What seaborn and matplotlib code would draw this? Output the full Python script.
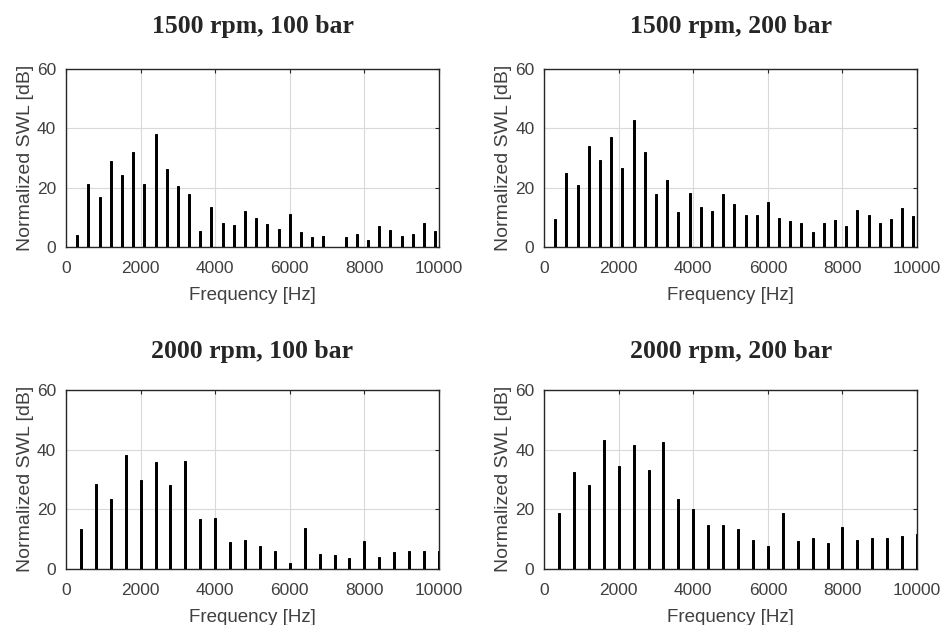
import numpy as np
import pandas as pd
import matplotlib
matplotlib.use("Agg")
import matplotlib.pyplot as plt
import seaborn as sns

# harmonic frequencies (Hz)
freq_1500 = [300 * k for k in range(1, 34)]
freq_2000 = [400 * k for k in range(1, 26)]

# normalized SWL [dB]
swl_1500_100 = [4.0, 21.3, 16.9, 28.9, 24.1, 32.0, 21.1, 37.9, 26.4, 20.6, 17.9,
                5.5, 13.5, 7.9, 7.4, 12.0, 9.8, 7.6, 6.0, 11.0, 5.0, 3.2, 3.6,
                0.0, 3.2, 4.5, 2.3, 7.1, 5.8, 3.5, 4.2, 8.0, 5.5]
swl_1500_200 = [9.5, 25.0, 21.0, 34.0, 29.1, 36.9, 26.5, 42.8, 32.0, 17.7, 22.6,
                11.6, 18.2, 13.4, 12.0, 17.8, 14.4, 10.7, 10.7, 15.0, 9.7, 8.6,
                8.2, 5.1, 8.2, 9.0, 7.1, 12.4, 10.6, 7.9, 9.5, 13.0, 10.4]
swl_2000_100 = [13.2, 28.4, 23.5, 38.2, 29.9, 35.9, 28.2, 36.2, 16.7, 17.2, 9.0,
                9.5, 7.6, 6.0, 1.9, 13.6, 4.9, 4.5, 3.5, 9.4, 4.1, 5.7, 6.1,
                6.1, 6.1]
swl_2000_200 = [18.8, 32.6, 28.1, 43.3, 34.4, 41.4, 33.3, 42.6, 23.5, 20.0, 14.7,
                14.6, 13.2, 9.5, 7.7, 18.7, 9.4, 10.3, 8.6, 14.0, 9.5, 10.4, 10.3,
                11.1, 11.5]

titles = ["1500 rpm, 100 bar", "1500 rpm, 200 bar",
          "2000 rpm, 100 bar", "2000 rpm, 200 bar"]

sns.set_style("white")
plt.rcParams['font.family'] = ['Liberation Sans', 'DejaVu Sans']

fig = plt.figure(figsize=(9.43, 6.25), dpi=100)
positions = [
    [0.070, 0.605, 0.3955, 0.285],
    [0.577, 0.605, 0.3955, 0.285],
    [0.070, 0.090, 0.3955, 0.286],
    [0.577, 0.090, 0.3955, 0.286],
]
panels = [
    (freq_1500, swl_1500_100, 0.18),
    (freq_1500, swl_1500_200, 0.18),
    (freq_2000, swl_2000_100, 0.135),
    (freq_2000, swl_2000_200, 0.135),
]
title_pads = [26, 26, 23, 23]

label_col = "#404040"
for pos, (f, v, w), title, tp in zip(positions, panels, titles, title_pads):
    ax = fig.add_axes(pos)
    df = pd.DataFrame({"freq": f, "swl": v})
    sns.barplot(data=df, x="freq", y="swl", native_scale=True, width=w,
                color="black", edgecolor="black", linewidth=0.7,
                saturation=1, ax=ax, zorder=3)
    ax.set_xlim(0, 10000)
    ax.set_ylim(0, 60)
    ax.set_xticks([0, 2000, 4000, 6000, 8000, 10000])
    ax.set_yticks([0, 20, 40, 60])
    ax.grid(True, color="#d9d9d9", linewidth=0.8, zorder=0)
    ax.set_axisbelow(True)
    ax.tick_params(direction="in", length=3, width=0.8, colors="#262626",
                   labelcolor=label_col, labelsize=12.5,
                   top=True, right=True, pad=7)
    ax.tick_params(axis="x", pad=10)
    for s in ax.spines.values():
        s.set_color("#262626")
        s.set_linewidth(1.0)
    ax.set_xlabel("Frequency [Hz]", color=label_col, fontsize=13.5, labelpad=8)
    ax.set_ylabel("Normalized SWL [dB]", color=label_col, fontsize=14, labelpad=2)
    ax.set_title(title, family=["Liberation Serif"], fontweight="bold",
                 fontsize=18.5, pad=tp)

fig.savefig("out.png", dpi=100)
